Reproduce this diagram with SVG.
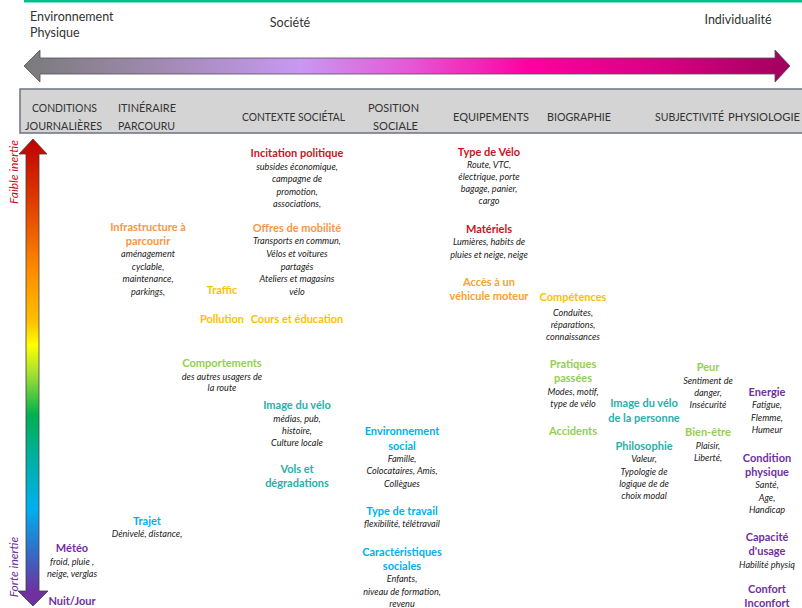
<svg xmlns="http://www.w3.org/2000/svg" width="802" height="608" viewBox="0 0 802 608">
<defs>
<linearGradient id="gh" gradientUnits="userSpaceOnUse" x1="24" y1="0" x2="790" y2="0">
<stop offset="0" stop-color="#7a7a7a"/>
<stop offset="0.15" stop-color="#9a88a8"/>
<stop offset="0.36" stop-color="#c898f2"/>
<stop offset="0.5" stop-color="#e45ad6"/>
<stop offset="0.66" stop-color="#ff00a0"/>
<stop offset="0.85" stop-color="#d4007e"/>
<stop offset="1" stop-color="#a0005e"/>
</linearGradient>
<linearGradient id="gv" gradientUnits="userSpaceOnUse" x1="0" y1="140" x2="0" y2="606">
<stop offset="0" stop-color="#c00000"/>
<stop offset="0.14" stop-color="#e04000"/>
<stop offset="0.28" stop-color="#ff8c00"/>
<stop offset="0.39" stop-color="#ffc000"/>
<stop offset="0.44" stop-color="#ffff00"/>
<stop offset="0.5" stop-color="#a8e030"/>
<stop offset="0.59" stop-color="#00b050"/>
<stop offset="0.69" stop-color="#00b0a8"/>
<stop offset="0.79" stop-color="#00b0f0"/>
<stop offset="0.88" stop-color="#3070c8"/>
<stop offset="0.97" stop-color="#7030a0"/>
</linearGradient>
</defs>
<style>
text{font-family:Lato,"Liberation Sans",sans-serif}
.top{font-size:12.5px;fill:#333}
.hdr{font-size:11.5px;fill:#333}
.t{font-size:11px;font-weight:bold;text-anchor:middle}
.d{font-size:9.1px;font-style:italic;fill:#222;text-anchor:middle}
.red{fill:#c8141e}.ora{fill:#f79646}.ora2{fill:#fca12a}.gold{fill:#ffc000}
.grn{fill:#92d050}.teal{fill:#27b0aa}.cyan{fill:#00b0f0}.pur{fill:#7030a0}
</style>
<rect x="0" y="0" width="802" height="608" fill="#ffffff"/>
<line x1="24" y1="1" x2="802" y2="1" stroke="#00c08a" stroke-width="3"/>
<g id="axes">
<text class="top" x="30" y="21">Environnement</text>
<text class="top" x="30" y="37">Physique</text>
<text class="top" x="290" y="27" text-anchor="middle" font-size="12">Société</text>
<text class="top" x="738" y="24" text-anchor="middle">Individualité</text>
<polygon points="24,66 40,50 40,58 775,58 775,50 790,66 775,82 775,74 40,74 40,82" fill="url(#gh)" stroke="#505050" stroke-width="0.8"/>
<polygon points="33,139 47,154 39,154 39,591 48,591 33,606 18,591 26,591 26,154 19,154" fill="url(#gv)" stroke="#404040" stroke-width="0.8"/>
<text x="18" y="172" transform="rotate(-90 18 172)" text-anchor="middle" font-size="12" font-style="italic" fill="#c8141e">Faible inertie</text>
<text x="18" y="567" transform="rotate(-90 18 567)" text-anchor="middle" font-size="12" font-style="italic" fill="#7030a0">Forte inertie</text>
</g>
<g id="header">
<rect x="20" y="89" width="800" height="44" fill="#d4d4d4" stroke="#6e7282" stroke-width="1.5"/>
<text class="hdr" x="32" y="112" textLength="65" lengthAdjust="spacingAndGlyphs">CONDITIONS</text>
<text class="hdr" x="25" y="130" textLength="77" lengthAdjust="spacingAndGlyphs">JOURNALIÈRES</text>
<text class="hdr" x="118" y="112" textLength="58" lengthAdjust="spacingAndGlyphs">ITINÉRAIRE</text>
<text class="hdr" x="118" y="130" textLength="57" lengthAdjust="spacingAndGlyphs">PARCOURU</text>
<text class="hdr" x="242" y="121" textLength="103" lengthAdjust="spacingAndGlyphs">CONTEXTE SOCIÉTAL</text>
<text class="hdr" x="368" y="112" textLength="51" lengthAdjust="spacingAndGlyphs">POSITION</text>
<text class="hdr" x="373" y="130" textLength="45" lengthAdjust="spacingAndGlyphs">SOCIALE</text>
<text class="hdr" x="453" y="121" textLength="76" lengthAdjust="spacingAndGlyphs">EQUIPEMENTS</text>
<text class="hdr" x="547" y="121" textLength="64" lengthAdjust="spacingAndGlyphs">BIOGRAPHIE</text>
<text class="hdr" x="655" y="121" textLength="69" lengthAdjust="spacingAndGlyphs">SUBJECTIVITÉ</text>
<text class="hdr" x="728" y="121" textLength="72" lengthAdjust="spacingAndGlyphs">PHYSIOLOGIE</text>
</g>
<g id="n-incitation"><text class="t red" x="297" y="157">Incitation politique</text>
<text class="d" x="297" y="170">subsides économique,</text><text class="d" x="297" y="182">campagne de</text><text class="d" x="297" y="195">promotion,</text><text class="d" x="297" y="207">associations,</text></g>
<g id="n-offres"><text class="t ora" x="297" y="232">Offres de mobilité</text>
<text class="d" x="297" y="244">Transports en commun,</text><text class="d" x="297" y="257">Vélos et voitures</text><text class="d" x="297" y="270">partagés</text><text class="d" x="297" y="282">Ateliers et magasins</text><text class="d" x="297" y="295">vélo</text></g>
<g id="n-cours"><text class="t gold" x="297" y="323">Cours et éducation</text></g>
<g id="n-traffic"><text class="t gold" x="222" y="294">Traffic</text></g>
<g id="n-pollution"><text class="t gold" x="222" y="323">Pollution</text></g>
<g id="n-infra"><text class="t ora" x="148" y="231">Infrastructure à</text><text class="t ora" x="148" y="245">parcourir</text>
<text class="d" x="148" y="257">aménagement</text><text class="d" x="148" y="270">cyclable,</text><text class="d" x="148" y="282">maintenance,</text><text class="d" x="148" y="295">parkings,</text></g>
<g id="n-comport"><text class="t grn" x="222" y="367">Comportements</text>
<text class="d" x="222" y="380">des autres usagers de</text><text class="d" x="222" y="391">la route</text></g>
<g id="n-image"><text class="t teal" x="297" y="409">Image du vélo</text>
<text class="d" x="297" y="422">médias, pub,</text><text class="d" x="297" y="434">histoire,</text><text class="d" x="297" y="446">Culture locale</text></g>
<g id="n-vols"><text class="t teal" x="297" y="473">Vols et</text><text class="t teal" x="297" y="487">dégradations</text></g>
<g id="n-trajet"><text class="t cyan" x="147" y="525">Trajet</text><text class="d" x="147" y="537">Dénivelé, distance,</text></g>
<g id="n-meteo"><text class="t pur" x="72" y="552">Météo</text><text class="d" x="72" y="565">froid, pluie ,</text><text class="d" x="72" y="577">neige, verglas</text></g>
<g id="n-nuit"><text class="t pur" x="72" y="605">Nuit/Jour</text></g>
<g id="n-envsoc"><text class="t cyan" x="402" y="435">Environnement</text><text class="t cyan" x="402" y="450">social</text>
<text class="d" x="402" y="462">Famille,</text><text class="d" x="402" y="474">Colocataires, Amis,</text><text class="d" x="402" y="487">Collègues</text></g>
<g id="n-travail"><text class="t cyan" x="402" y="515">Type de travail</text><text class="d" x="402" y="527">flexibilité, télétravail</text></g>
<g id="n-caract"><text class="t cyan" x="402" y="556">Caractéristiques</text><text class="t cyan" x="402" y="570">sociales</text>
<text class="d" x="402" y="582">Enfants,</text><text class="d" x="402" y="595">niveau de formation,</text><text class="d" x="402" y="607">revenu</text></g>
<g id="n-typevelo"><text class="t red" x="489" y="156">Type de Vélo</text>
<text class="d" x="489" y="168">Route, VTC,</text><text class="d" x="489" y="180">électrique, porte</text><text class="d" x="489" y="192">bagage, panier,</text><text class="d" x="489" y="204">cargo</text></g>
<g id="n-materiels"><text class="t red" x="489" y="233">Matériels</text>
<text class="d" x="489" y="245">Lumières, habits de</text><text class="d" x="489" y="258">pluies et neige, neige</text></g>
<g id="n-acces"><text class="t ora2" x="489" y="286">Accès à un</text><text class="t ora2" x="489" y="300">véhicule moteur</text></g>
<g id="n-compet"><text class="t gold" x="573" y="301">Compétences</text>
<text class="d" x="573" y="316">Conduites,</text><text class="d" x="573" y="328">réparations,</text><text class="d" x="573" y="340">connaissances</text></g>
<g id="n-pratiques"><text class="t grn" x="573" y="368">Pratiques</text><text class="t grn" x="573" y="382">passées</text>
<text class="d" x="573" y="395">Modes, motif,</text><text class="d" x="573" y="407">type de vélo</text></g>
<g id="n-accidents"><text class="t grn" x="573" y="435">Accidents</text></g>
<g id="n-imageperso"><text class="t teal" x="644" y="407">Image du vélo</text><text class="t teal" x="644" y="422">de la personne</text></g>
<g id="n-philo"><text class="t teal" x="644" y="450">Philosophie</text>
<text class="d" x="644" y="462">Valeur,</text><text class="d" x="644" y="475">Typologie de</text><text class="d" x="644" y="487">logique de de</text><text class="d" x="644" y="499">choix modal</text></g>
<g id="n-peur"><text class="t grn" x="708" y="371">Peur</text>
<text class="d" x="708" y="384">Sentiment de</text><text class="d" x="708" y="396">danger,</text><text class="d" x="708" y="408">Insécurité</text></g>
<g id="n-bienetre"><text class="t grn" x="708" y="436">Bien-être</text>
<text class="d" x="708" y="449">Plaisir,</text><text class="d" x="708" y="461">Liberté,</text></g>
<g id="n-energie"><text class="t pur" x="767" y="396">Energie</text>
<text class="d" x="767" y="408">Fatigue,</text><text class="d" x="767" y="421">Flemme,</text><text class="d" x="767" y="433">Humeur</text></g>
<g id="n-condition"><text class="t pur" x="767" y="462">Condition</text><text class="t pur" x="767" y="476">physique</text>
<text class="d" x="767" y="488">Santé,</text><text class="d" x="767" y="501">Age,</text><text class="d" x="767" y="513">Handicap</text></g>
<g id="n-capacite"><text class="t pur" x="767" y="541">Capacité</text><text class="t pur" x="767" y="555">d'usage</text>
<text class="d" x="767" y="568">Habilité physiq</text></g>
<g id="n-confort"><text class="t pur" x="767" y="593">Confort</text><text class="t pur" x="767" y="607">Inconfort</text></g>
</svg>
